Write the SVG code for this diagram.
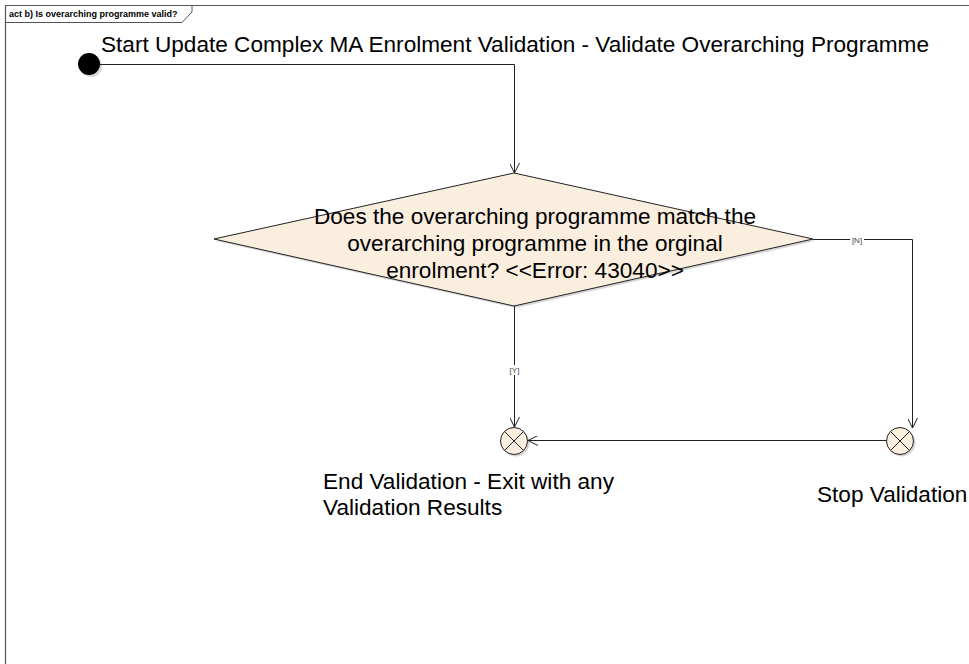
<svg xmlns="http://www.w3.org/2000/svg" width="969" height="664" viewBox="0 0 969 664">
<defs>
<style>
.lbl{font-family:"Liberation Sans",Arial,sans-serif;font-size:22.6px;fill:#000}
.grd{font-family:"Liberation Sans",Arial,sans-serif;font-size:8px;fill:#444}
.ln{fill:none;stroke:#222;stroke-width:1}
.fin{fill:#FAEEDF;stroke:#222;stroke-width:1}
.shd{fill:#bbb;stroke:none;opacity:0.6}
</style>
<marker id="arr" viewBox="0 0 10 10" refX="10" refY="5" markerWidth="10" markerHeight="10" markerUnits="userSpaceOnUse" orient="auto">
<path d="M0,0 L10,5 L0,10" fill="none" stroke="#222" stroke-width="1"/>
</marker>
</defs>
<rect width="969" height="664" fill="#fff"/>
<g id="frame">
<path d="M5.5,664 L5.5,5.5 L969,5.5" fill="none" stroke="#555" stroke-width="1.2"/>
<path d="M5.5,22.5 L182,22.5 L192,12 L192,5.5" fill="none" stroke="#555" stroke-width="1"/>
<text x="9" y="17" font-family="Liberation Sans,Arial,sans-serif" font-size="9" font-weight="bold" fill="#000">act b) Is overarching programme valid?</text>
</g>
<g id="start">
<circle cx="91" cy="66" r="11" class="shd"/>
<circle cx="89" cy="64" r="11" fill="#000"/>
<text class="lbl" x="101" y="52">Start Update Complex MA Enrolment Validation - Validate Overarching Programme</text>
</g>
<g id="decision">
<polygon points="516,175 815,241 516,308 216,241" class="shd"/>
<polygon points="514,173 813,239 514,306 214,239" class="fin"/>
<text class="lbl" text-anchor="middle"><tspan x="535" y="224">Does the overarching programme match the</tspan><tspan x="535" y="251">overarching programme in the orginal</tspan><tspan x="535" y="278">enrolment? &lt;&lt;Error: 43040&gt;&gt;</tspan></text>
</g>
<g id="end">
<circle cx="516" cy="443" r="13.5" class="shd"/>
<circle cx="514" cy="441" r="13.5" class="fin"/>
<path d="M504.5,431.5 L523.5,450.5 M523.5,431.5 L504.5,450.5" class="ln"/>
<text class="lbl"><tspan x="323" y="489">End Validation - Exit with any</tspan><tspan x="323" y="515">Validation Results</tspan></text>
</g>
<g id="stop">
<circle cx="902" cy="443" r="13.5" class="shd"/>
<circle cx="900" cy="441" r="13.5" class="fin"/>
<path d="M890.5,431.5 L909.5,450.5 M909.5,431.5 L890.5,450.5" class="ln"/>
<text class="lbl" x="817" y="502">Stop Validation</text>
</g>
<g id="connectors">
<path d="M100,64.5 L514.5,64.5 L514.5,173" class="ln" marker-end="url(#arr)"/>
<path d="M514.5,306 L514.5,427" class="ln" marker-end="url(#arr)"/>
<rect x="508" y="365" width="13" height="10" fill="#fff"/>
<text class="grd" x="514.5" y="373" text-anchor="middle">[Y]</text>
<path d="M813,239.5 L912.5,239.5 L912.5,428" class="ln" marker-end="url(#arr)"/>
<rect x="850" y="235" width="14" height="9" fill="#fff"/>
<text class="grd" x="857" y="242.5" text-anchor="middle">[N]</text>
<path d="M886.5,440.5 L528,440.5" class="ln" marker-end="url(#arr)"/>
</g>
</svg>
